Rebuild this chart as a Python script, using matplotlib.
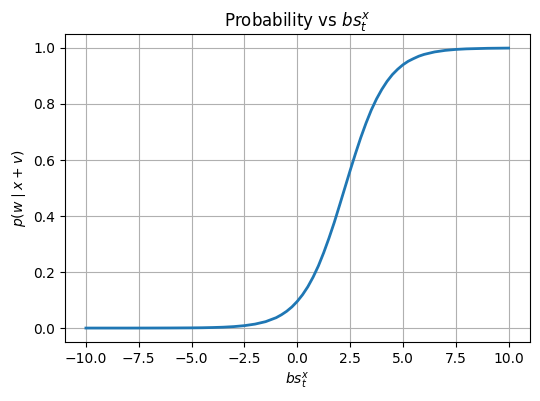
import matplotlib
matplotlib.use("Agg")
import matplotlib.pyplot as plt

x_vals = [-10, -9, -8, -7, -6, -5, -4.5, -4, -3.5, -3, -2.5, -2, -1.5, -1, -0.75, -0.5, -0.25,
          0, 0.25, 0.5, 0.75, 1, 1.25, 1.5, 1.75, 2, 2.25, 2.5, 2.75, 3, 3.25, 3.5, 3.75,
          4, 4.25, 4.5, 4.75, 5, 5.25, 5.5, 5.75, 6, 6.5, 7, 7.5, 8, 9, 10]
p_vals = [0.0000, 0.0000, 0.0000, 0.0001, 0.0003, 0.0007, 0.0011, 0.0019, 0.0031, 0.0052, 0.0086,
          0.0141, 0.0228, 0.037, 0.0474, 0.060, 0.0757,
          0.0953, 0.119, 0.1475, 0.182, 0.222, 0.269, 0.321, 0.377, 0.438, 0.500, 0.562, 0.622,
          0.679, 0.731, 0.778, 0.818, 0.852, 0.881, 0.905, 0.924, 0.940, 0.9526, 0.962, 0.9706,
          0.977, 0.9859, 0.9914, 0.9948, 0.9968, 0.9988, 0.9996]

fig = plt.figure(figsize=(5.4, 4.01), dpi=100)
ax = fig.add_axes([0.120, 0.147, 0.861, 0.768])
ax.plot(x_vals, p_vals, color="#1f77b4", linewidth=2)
ax.set_title(r"Probability vs $bs_t^x$")
ax.set_xlabel(r"$bs_t^x$")
ax.set_ylabel(r"$p(w \mid x + v)$")
ax.set_xticks([-10, -7.5, -5, -2.5, 0, 2.5, 5, 7.5, 10])
ax.grid(True)
fig.savefig("out.png", dpi=100)
